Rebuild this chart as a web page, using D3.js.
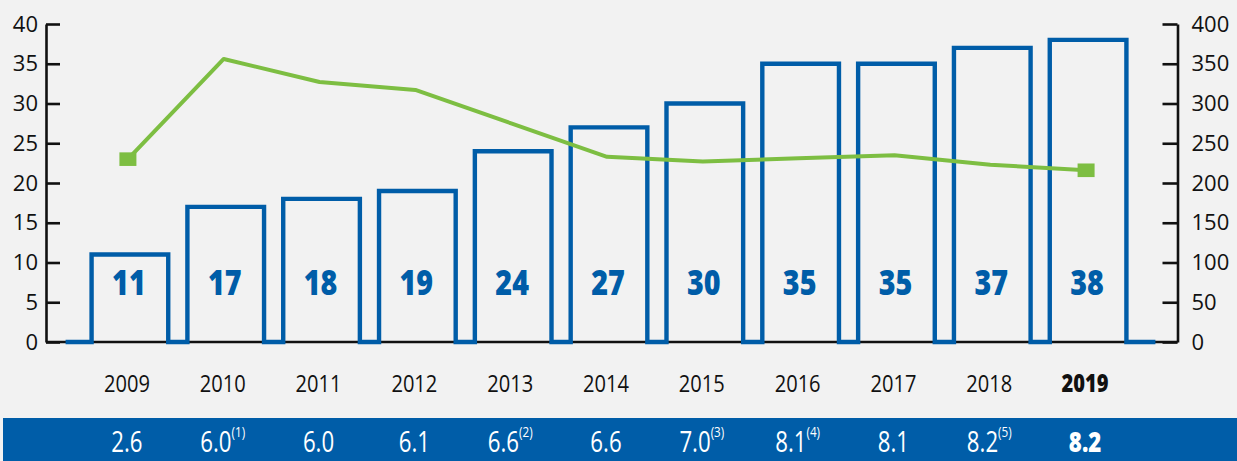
<!DOCTYPE html>
<html lang="en">
  <head>
    <meta charset="utf-8">
    <title>Chart</title>
    <script src="https://cdn.jsdelivr.net/npm/d3@7"></script>
    <style>
      html, body { margin: 0; padding: 0; background: #f2f2f2; }
      svg { display: block; }
      text { font-family: 'Open Sans', sans-serif; }
    </style>
  </head>
  <body>
    <div id="chart"></div>
    <script>
      let years   = ['2009','2010','2011','2012','2013','2014','2015','2016','2017','2018','2019']
      let bars    = [11, 17, 18, 19, 24, 27, 30, 35, 35, 37, 38]
      let line    = [230, 356, 327, 317, 275, 233, 227, 231, 235, 223, 216]
      let values  = ['2.6','6.0','6.0','6.1','6.6','6.6','7.0','8.1','8.1','8.2','8.2']
      let notes   = ['','(1)','','','(2)','','(3)','(4)','','(5)','']
      let leftTicks  = [0,5,10,15,20,25,30,35,40]
      let rightTicks = [0,50,100,150,200,250,300,350,400]

      let blue = '#005da8', green = '#7dbe42', ink = '#111'
      let width = 1237, height = 461
      let plotTop = 24, base = 342, axisL = 46, axisR = 1177.5

      let svg = d3.select('#chart').append('svg')
        .attr('width', width)
        .attr('height', height)

      svg.append('rect').attr('width', width).attr('height', height).attr('fill', '#f2f2f2')

      let x = d3.scaleBand()
        .domain(years)
        .range([82, 1136])
        .paddingInner(0.2)
        .paddingOuter(0.1)
      let yL = d3.scaleLinear().domain([0, 40]).range([base, plotTop])
      let yR = d3.scaleLinear().domain([0, 400]).range([base, plotTop])
      let cx = (d) => x(d) + x.bandwidth() / 2

      // narrow text: no condensed face installed, so squeeze horizontally
      let squeeze = (px, py, s) => 'translate(' + px + ',' + py + ') scale(' + s + ',1)'

      // axes
      let leftAxis = d3.axisLeft(yL).tickValues(leftTicks).tickSize(-14).tickSizeOuter(0).tickPadding(8)
      let gl = svg.append('g').attr('transform', 'translate(' + axisL + ',0)').call(leftAxis)
      let rightAxis = d3.axisRight(yR).tickValues(rightTicks).tickSize(-15).tickSizeOuter(0).tickPadding(14)
      let gr = svg.append('g').attr('transform', 'translate(' + axisR + ',0)').call(rightAxis)
      for (let g of [gl, gr]) {
        g.select('.domain').attr('stroke', ink).attr('stroke-width', 2.6)
        g.selectAll('.tick line').attr('stroke', ink).attr('stroke-width', 2.6)
        g.selectAll('.tick text')
          .attr('fill', ink)
          .attr('font-family', "'Open Sans', sans-serif")
          .attr('font-size', '22px')
      }

      // baseline
      svg.append('line')
        .attr('x1', axisL).attr('x2', axisR)
        .attr('y1', base).attr('y2', base)
        .attr('stroke', ink).attr('stroke-width', 2.6)

      // stepped outline of the bars
      let pts = [[x(years[0]) - 26, yL(0)]]
      years.forEach((yr, i) => {
        let l = x(yr), r = x(yr) + x.bandwidth()
        pts.push([l, yL(0)], [l, yL(bars[i])], [r, yL(bars[i])], [r, yL(0)])
      })
      pts.push([x(years[years.length - 1]) + x.bandwidth() + 29, yL(0)])
      svg.append('path')
        .attr('d', d3.line()(pts))
        .attr('fill', 'none')
        .attr('stroke', blue)
        .attr('stroke-width', 4.4)
        .attr('stroke-linejoin', 'miter')

      svg.selectAll('text.barval')
        .data(bars)
        .enter()
        .append('text')
        .attr('class', 'barval')
        .attr('transform', (d, i) => squeeze(cx(years[i]) - 1, 295, 0.82))
        .attr('text-anchor', 'middle')
        .attr('font-size', '35px')
        .attr('font-weight', 800)
        .attr('fill', blue)
        .text((d) => d)

      // green line
      let ln = d3.line()
        .x((d, i) => cx(years[i]) - 2)
        .y((d) => yR(d))
      svg.append('path')
        .attr('d', ln(line))
        .attr('fill', 'none')
        .attr('stroke', green)
        .attr('stroke-width', 4)
        .attr('stroke-linejoin', 'round')
      let ends = [0, line.length - 1]
      svg.selectAll('rect.mark')
        .data(ends)
        .enter()
        .append('rect')
        .attr('class', 'mark')
        .attr('x', (i) => cx(years[i]) - 2 - 8.5)
        .attr('y', (i) => yR(line[i]) - 6.8)
        .attr('width', 17)
        .attr('height', 13.6)
        .attr('fill', green)

      // year labels
      svg.selectAll('text.year')
        .data(years)
        .enter()
        .append('text')
        .attr('class', 'year')
        .attr('transform', (d) => squeeze(cx(d) - 3, 391.5, 0.82))
        .attr('text-anchor', 'middle')
        .attr('font-size', '24.5px')
        .attr('font-weight', (d, i) => i === years.length - 1 ? 800 : 'normal')
        .attr('fill', ink)
        .text((d) => d)

      // band of values
      svg.append('rect')
        .attr('x', 3).attr('y', 418)
        .attr('width', width - 3).attr('height', height - 418)
        .attr('fill', blue)

      let vt = svg.selectAll('text.val')
        .data(values)
        .enter()
        .append('text')
        .attr('class', 'val')
        .attr('transform', (d, i) => squeeze(cx(years[i]) - 3, 451.5, 0.78))
        .attr('text-anchor', 'middle')
        .attr('font-size', '28.5px')
        .attr('font-weight', (d, i) => i === values.length - 1 ? 800 : 'normal')
        .attr('fill', '#fff')
      vt.append('tspan').text((d) => d)
      vt.append('tspan')
        .attr('font-size', '15px')
        .attr('dy', '-0.95em')
        .text((d, i) => notes[i])
    </script>
  </body>
</html>
